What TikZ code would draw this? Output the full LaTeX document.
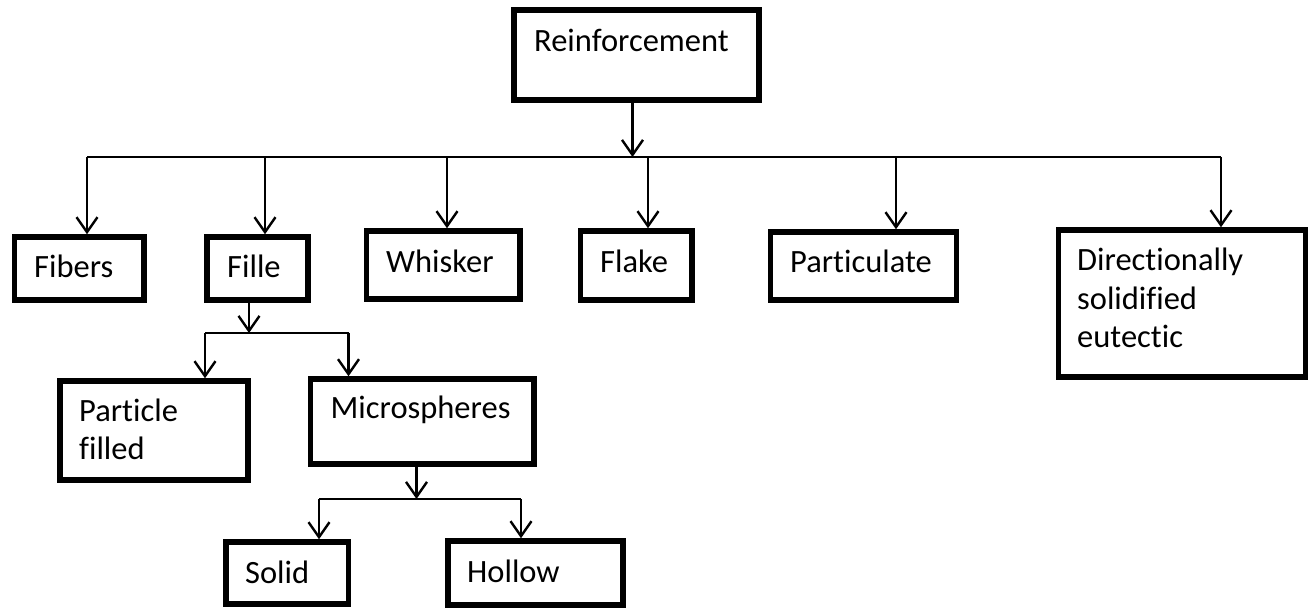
\documentclass[tikz,border=0pt]{standalone}
\usepackage{fontspec}
\setmainfont{Carlito}[Ligatures=NoCommon]
\usetikzlibrary{arrows.meta}

\begin{document}
\begin{tikzpicture}[
    x=1pt, y=-1pt,
    box/.style={ draw=black,
      line width=5.5pt,
      inner sep=0pt},
    txt/.style={ anchor=base west,
      inner sep=0pt,
      align=left,
      font=\fontsize{32.5}{38.5}\selectfont},
    conn/.style={line width=2.4pt},
    arr/.style={conn, -{Straight Barb[length=15pt,width=21pt]}}]
    \useasboundingbox (0,0) rectangle (1310,609);

    % boxes
    \node[box, minimum width=245pt, minimum height=90pt] (reinf) at (636.5,55) {};
    \node[box, minimum width=129.5pt, minimum height=63pt] (fib) at (79.25,268.5) {};
    \node[box, minimum width=101pt, minimum height=63pt] (fille) at (257.5,268.5) {};
    \node[box, minimum width=153.5pt, minimum height=68pt] (whisk) at (443.25,265) {};
    \node[box, minimum width=111.5pt, minimum height=69pt] (flake) at (636.25,265.5) {};
    \node[box, minimum width=186pt, minimum height=68pt] (part) at (863.5,266) {};
    \node[box, minimum width=247pt, minimum height=147pt] (dir) at (1182,303.5) {};
    \node[box, minimum width=188pt, minimum height=99pt] (pfill) at (154,430.5) {};
    \node[box, minimum width=223.5pt, minimum height=85pt] (micro) at (422.25,421.5) {};
    \node[box, minimum width=122.5pt, minimum height=62pt] (solid) at (287.25,573) {};
    \node[box, minimum width=175pt, minimum height=64pt] (hollow) at (535.5,573) {};

    % labels (base of the last line)
    \node[txt] (reinfT) at (534,52) {Reinforcement};
    \node[txt] (fibT) at (34,278) {Fibers};
    \node[txt] (filleT) at (227,278) {Fille};
    \node[txt] (whiskT) at (386,273) {Whisker};
    \node[txt] (flakeT) at (600,273) {Flake};
    \node[txt] (partT) at (790,273) {Particulate};
    \node[txt] (dirT) at (1077,348) {Directionally\\solidified\\eutectic};
    \node[txt] (pfillT) at (79,460) {Particle\\filled};
    \node[txt] (microT) at (330.5,419) {Microspheres};
    \node[txt] (solidT) at (245,583) {Solid};
    \node[txt] (hollowT) at (467,582) {Hollow};

    % first level
    \coordinate (busR) at (632.5,157);
    \draw[arr] (reinf.south -| busR) -- (busR);
    \foreach \x/\n in {87/fib, 265/fille, 447/whisk, 648/flake, 896/part, 1221/dir} {
      \coordinate (t\n) at (\x,157);
      \draw[arr] (t\n) -- (\n.north -| t\n);
    }
    \draw[conn] (tfib) -- (tdir);

    % fille branch
    \coordinate (busF) at (249,333);
    \draw[arr] (fille.south -| busF) -- (busF);
    \foreach \x/\n in {205/pfill, 348.5/micro} {
      \coordinate (t\n) at (\x,333);
      \draw[arr] (t\n) -- (\n.north -| t\n);
    }
    \draw[conn] (tpfill) -- (tmicro);

    % microspheres branch
    \coordinate (busM) at (416.5,499);
    \draw[arr] (micro.south -| busM) -- (busM);
    \foreach \x/\n in {319/solid, 521/hollow} {
      \coordinate (t\n) at (\x,499);
      \draw[arr] (t\n) -- (\n.north -| t\n);
    }
    \draw[conn] (tsolid) -- (thollow);
\end{tikzpicture}
\end{document}
